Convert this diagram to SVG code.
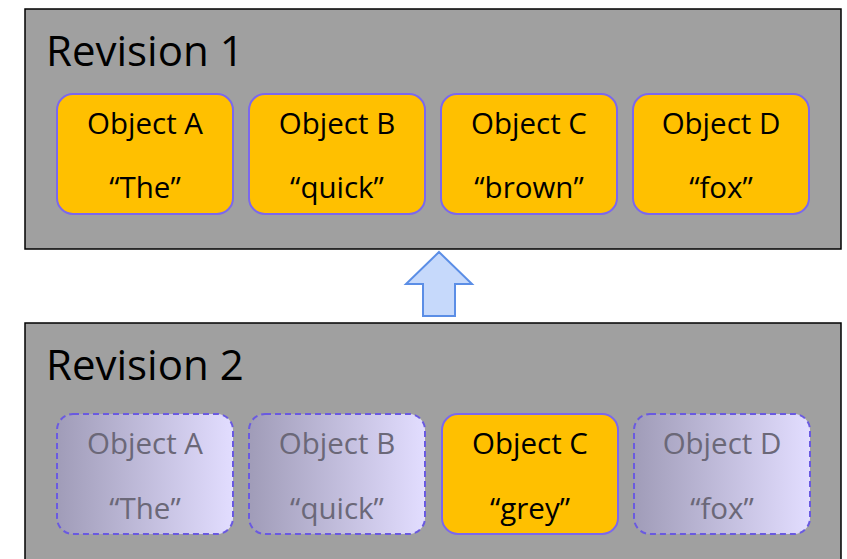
<svg xmlns="http://www.w3.org/2000/svg" width="847" height="559" viewBox="0 0 847 559">
<defs>
<linearGradient id="ghost" x1="0" y1="0" x2="1" y2="0">
<stop offset="0" stop-color="#a09cb8"/>
<stop offset="1" stop-color="#e2ddff"/>
</linearGradient>
<style>
.rev{fill:#a0a0a0;stroke:#000;stroke-width:1.5}
.title{font-family:"Open Sans",sans-serif;font-size:42px;fill:#000}
.obj{fill:#ffc000;stroke:#7b68ee;stroke-width:2}
.ghost{fill:url(#ghost);stroke:#6a5ae0;stroke-width:2;stroke-dasharray:6 4}
.t{font-family:"Open Sans",sans-serif;font-size:29.5px;text-anchor:middle;fill:#000}
.g{fill:#6b6878}
</style>
</defs>
<g id="revision1">
<rect class="rev" x="25" y="9" width="816" height="240"/>
<text class="title" x="46" y="66">Revision 1</text>
</g>
<g id="r1-objA"><rect class="obj" x="57" y="94" width="176" height="120" rx="16"/><text class="t" x="145" y="134">Object A</text><text class="t" x="145" y="198">“The”</text></g>
<g id="r1-objB"><rect class="obj" x="249" y="94" width="176" height="120" rx="16"/><text class="t" x="337" y="134">Object B</text><text class="t" x="337" y="198">“quick”</text></g>
<g id="r1-objC"><rect class="obj" x="441" y="94" width="176" height="120" rx="16"/><text class="t" x="529" y="134">Object C</text><text class="t" x="529" y="198">“brown”</text></g>
<g id="r1-objD"><rect class="obj" x="633" y="94" width="176" height="120" rx="16"/><text class="t" x="721" y="134">Object D</text><text class="t" x="721" y="198">“fox”</text></g>
<g id="revision2">
<rect class="rev" x="25" y="323" width="816" height="250"/>
<text class="title" x="46" y="380">Revision 2</text>
</g>
<g id="r2-objA"><rect class="ghost" x="57" y="414" width="176" height="120" rx="16"/><text class="t g" x="145" y="454">Object A</text><text class="t g" x="145" y="519">“The”</text></g>
<g id="r2-objB"><rect class="ghost" x="249" y="414" width="176" height="120" rx="16"/><text class="t g" x="337" y="454">Object B</text><text class="t g" x="337" y="519">“quick”</text></g>
<g id="r2-objC"><rect class="obj" x="442" y="414" width="176" height="120" rx="16"/><text class="t" x="530" y="454">Object C</text><text class="t" x="530" y="519">“grey”</text></g>
<g id="r2-objD"><rect class="ghost" x="634" y="414" width="176" height="120" rx="16"/><text class="t g" x="722" y="454">Object D</text><text class="t g" x="722" y="519">“fox”</text></g>
<g id="connectors">
<polygon points="439,252 472,284 455,284 455,316 423,316 423,284 406,284" fill="#c6d9fb" stroke="#5b8ee6" stroke-width="2"/>
</g>
</svg>
